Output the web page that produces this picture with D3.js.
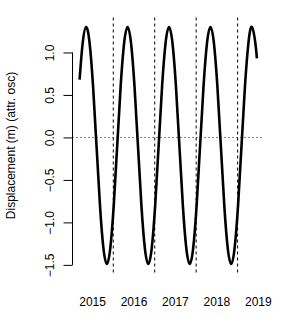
<!DOCTYPE html>
<html>
<head>
<meta charset="utf-8">
<script src="https://cdn.jsdelivr.net/npm/d3@7"></script>
<style>
  body { margin: 0; background: #fff; }
  text { font-family: "Liberation Sans", Arial, sans-serif; font-size: 12px; fill: #000; }
</style>
</head>
<body>
<div id="chart"></div>
<script>
// decimal year of each sample
var decYear = [
  2014.687, 2014.762, 2014.845, 2014.928,
  2015.012, 2015.095, 2015.178, 2015.262, 2015.345, 2015.428,
  2015.512, 2015.595, 2015.678, 2015.762, 2015.845, 2015.928,
  2016.012, 2016.095, 2016.178, 2016.262, 2016.345, 2016.428,
  2016.512, 2016.595, 2016.678, 2016.762, 2016.845, 2016.928,
  2017.012, 2017.095, 2017.178, 2017.262, 2017.345, 2017.428,
  2017.512, 2017.595, 2017.678, 2017.762, 2017.845, 2017.928,
  2018.012, 2018.095, 2018.178, 2018.262, 2018.345, 2018.428,
  2018.512, 2018.595, 2018.678, 2018.762, 2018.845, 2018.928,
  2018.966
];
// displacement (m), attributed oscillation
var disp = [
  0.68, 1.113, 1.300, 1.113,
  0.603, -0.095, -0.793, -1.303, -1.490, -1.303,
  -0.793, -0.095, 0.603, 1.113, 1.300, 1.113,
  0.603, -0.095, -0.793, -1.303, -1.490, -1.303,
  -0.793, -0.095, 0.603, 1.113, 1.300, 1.113,
  0.603, -0.095, -0.793, -1.303, -1.490, -1.303,
  -0.793, -0.095, 0.603, 1.113, 1.300, 1.113,
  0.603, -0.095, -0.793, -1.303, -1.490, -1.303,
  -0.793, -0.095, 0.603, 1.113, 1.300, 1.113,
  0.93
];
var xTicks = [2015, 2016, 2017, 2018, 2019];
var yTicks = [-1.5, -1.0, -0.5, 0.0, 0.5, 1.0];
var vLines = [2015.5, 2016.5, 2017.5, 2018.5];

var width = 282, height = 328;
var plotL = 72.5, plotR = 264, plotT = 17.5, plotB = 273.5;

var data = decYear.map(function(d, i) { return {t: d, v: disp[i]}; });

/* Scales, R style 4% padding */
var xr = d3.extent(decYear), yr = d3.extent(disp);
var xpad = (xr[1] - xr[0]) * 0.04, ypad = (yr[1] - yr[0]) * 0.04;
var xScale = d3.scaleLinear()
  .domain([xr[0] - xpad, xr[1] + xpad])
  .range([plotL, plotR]);
var yScale = d3.scaleLinear()
  .domain([yr[0] - ypad, yr[1] + ypad])
  .range([plotB, plotT]);

var svg = d3.select("#chart").append("svg")
  .attr("width", width)
  .attr("height", height);

/* Reference lines */
svg.append("line")
  .attr("x1", plotL).attr("x2", plotR)
  .attr("y1", yScale(0)).attr("y2", yScale(0))
  .attr("stroke", "#000").attr("stroke-width", 1)
  .attr("stroke-dasharray", "1,3");

svg.selectAll(".vline")
  .data(vLines).enter()
  .append("line")
  .attr("class", "vline")
  .attr("x1", d => xScale(d)).attr("x2", d => xScale(d))
  .attr("y1", plotT).attr("y2", plotB)
  .attr("stroke", "#000").attr("stroke-width", 1)
  .attr("stroke-dasharray", "3,3");

/* Curve */
var line = d3.line()
  .curve(d3.curveNatural)
  .x(d => xScale(d.t))
  .y(d => yScale(d.v));

svg.append("path")
  .datum(data)
  .attr("d", line)
  .attr("fill", "none")
  .attr("stroke", "#000")
  .attr("stroke-width", 2.6)
  .attr("stroke-linejoin", "round");

/* Y axis */
var yAxis = d3.axisLeft(yScale)
  .tickValues(yTicks)
  .tickSize(9)
  .tickSizeOuter(0)
  .tickFormat(d3.format(".1f"));

var gy = svg.append("g")
  .attr("transform", "translate(" + plotL + ",0)")
  .call(yAxis);
gy.select(".domain").remove();
gy.append("line")
  .attr("y1", yScale(yTicks[0])).attr("y2", yScale(yTicks[yTicks.length - 1]))
  .attr("stroke", "#000");
gy.selectAll(".tick line").attr("stroke", "#000");
gy.selectAll(".tick text")
  .attr("x", 0).attr("y", 0).attr("dy", null)
  .attr("transform", "translate(-19,0) rotate(-90)")
  .attr("text-anchor", "middle")
  .style("font-size", "12px")
  .style("font-family", "Liberation Sans, Arial, sans-serif")
  .text(d => d3.format(".1f")(d).replace("-", "\u2212"));

svg.append("text")
  .attr("transform", "translate(15," + ((plotT + plotB) / 2) + ") rotate(-90)")
  .attr("text-anchor", "middle")
  .text("Displacement (m) (attr. osc)");

/* X labels only, no axis line */
svg.selectAll(".xlab")
  .data(xTicks).enter()
  .append("text")
  .attr("class", "xlab")
  .attr("x", d => xScale(d))
  .attr("y", 306)
  .attr("text-anchor", "middle")
  .text(d => d);
</script>
</body>
</html>
